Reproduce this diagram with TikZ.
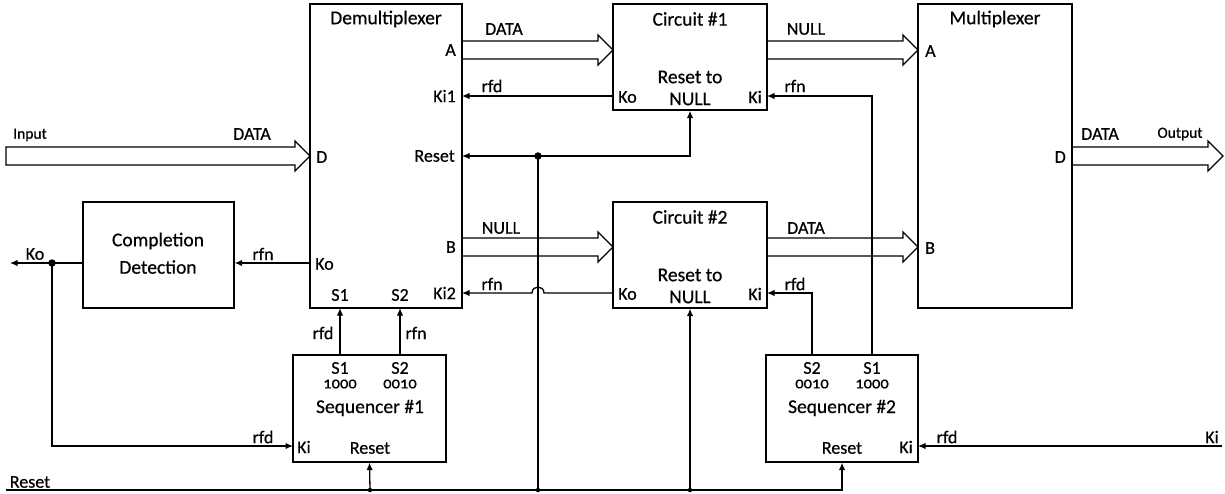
\documentclass[tikz,border=0pt]{standalone}
\usepackage{fontspec}
\setmainfont{Carlito}[FakeBold=0.5]
\usetikzlibrary{arrows.meta,calc}
\newcommand\fatarrow[2]{\draw[fat] let \p1=(#1), \p2=(#2) in (\x1,\y1+9pt) -- (\x2-15pt,\y1+9pt) -- (\x2-15pt,\y1+15pt) -- (\x2,\y1) -- (\x2-15pt,\y1-15pt) -- (\x2-15pt,\y1-9pt) -- (\x1,\y1-9pt) -- cycle;}
\begin{document}
\begin{tikzpicture}[x=1pt,y=-1pt,
  box/.style={draw, line width=1.3pt, rectangle, inner sep=0pt},
  title/.style={inner sep=0pt, font=\fontsize{19.5}{22}\selectfont},
  port/.style={inner sep=0pt, font=\fontsize{18}{20}\selectfont},
  io/.style={inner sep=0pt, font=\fontsize{15.5}{18}\selectfont},
  num/.style={inner sep=0pt, font=\fontsize{16.5}{18}\selectfont\addfontfeatures{Numbers=OldStyle}},
  wire/.style={line width=1.3pt},
  sig/.style={line width=1.3pt, -{Latex[length=7.5pt,width=6.5pt]}},
  fat/.style={line width=1.3pt, line join=miter},
  dot/.style={circle, fill, inner sep=0pt, minimum size=7.5pt},
  sdot/.style={circle, fill, inner sep=0pt, minimum size=4.5pt}]
\useasboundingbox (0,0) rectangle (1225,493);

% boxes
\node[box, minimum width=152pt, minimum height=304pt] (demux) at (386,156) {};
\node[box, minimum width=154pt, minimum height=106pt] (c1) at (690,57) {};
\node[box, minimum width=154pt, minimum height=106pt] (c2) at (690,255) {};
\node[box, minimum width=154pt, minimum height=304pt] (mux) at (995,156) {};
\node[box, minimum width=151pt, minimum height=106pt] (cd) at (158.5,255) {};
\node[box, minimum width=153pt, minimum height=107pt] (seq1) at (369.5,408.5) {};
\node[box, minimum width=152pt, minimum height=107pt] (seq2) at (842,408.5) {};

% titles
\node[title] (demuxT) at (386,19) {Demultiplexer};
\node[title] (c1T) at (690,19) {Circuit \#1};
\node[title] (c1R) at (690,77) {Reset to};
\node[title] (c1N) at (690,99) {NULL};
\node[title] (c2T) at (690,217) {Circuit \#2};
\node[title] (c2R) at (690,275) {Reset to};
\node[title] (c2N) at (690,297) {NULL};
\node[title] (muxT) at (995,19) {Multiplexer};
\node[title] (cdT1) at (158,241) {Completion};
\node[title] (cdT2) at (158,267) {Detection};
\node[title] (seq1T) at (370,408) {Sequencer \#1};
\node[title] (seq2T) at (842,408) {Sequencer \#2};

% demux ports
\node[port, anchor=east] (lA) at (456,50) {A};
\node[port, anchor=east] (lKi1) at (456,96) {Ki1};
\node[port, anchor=east] (lRes) at (455,156) {Reset};
\node[port, anchor=east] (lB) at (456,247) {B};
\node[port, anchor=east] (lKi2) at (456,293) {Ki2};
\node[port, anchor=west] (lD) at (316,157) {D};
\node[port, anchor=west] (lKo) at (315,264) {Ko};
\node[port] (lS1) at (340,295) {S1};
\node[port] (lS2) at (400,295) {S2};
% circuit ports
\node[port, anchor=west] (c1Kol) at (618,97) {Ko};
\node[port, anchor=east] (c1Kil) at (762,97) {Ki};
\node[port, anchor=west] (c2Kol) at (618,294) {Ko};
\node[port, anchor=east] (c2Kil) at (762,294) {Ki};
% mux ports
\node[port, anchor=west] (mA) at (925,51) {A};
\node[port, anchor=west] (mB) at (925,248) {B};
\node[port, anchor=east] (mD) at (1066,157) {D};
% sequencer ports
\node[port] (q1S1) at (340,368) {S1};
\node[num] (q1n1) at (340,384) {1000};
\node[port] (q1S2) at (400,368) {S2};
\node[num] (q1n2) at (400,384) {0010};
\node[port, anchor=west] (q1Ki) at (297,447) {Ki};
\node[port] (q1R) at (370,448) {Reset};
\node[port] (q2S2) at (812,368) {S2};
\node[num] (q2n2) at (812,384) {0010};
\node[port] (q2S1) at (872,368) {S1};
\node[num] (q2n1) at (872,384) {1000};
\node[port, anchor=east] (q2Ki) at (913,447) {Ki};
\node[port] (q2R) at (842,448) {Reset};

% port coordinates
\coordinate (inStart) at (6,156);
\coordinate (dD) at (310,156);
\coordinate (dA) at (462,50);
\coordinate (dB) at (462,247);
\coordinate (dKi1) at (462,96);
\coordinate (dKi2) at (462,293);
\coordinate (dRes) at (462,156);
\coordinate (dKo) at (310,263);
\coordinate (dS1) at (340,308);
\coordinate (dS2) at (400,308);
\coordinate (c1In) at (613,50);
\coordinate (c1Out) at (767,50);
\coordinate (c1Ko) at (613,96);
\coordinate (c1Ki) at (767,96);
\coordinate (c2In) at (613,247);
\coordinate (c2Out) at (767,247);
\coordinate (c2Ko) at (613,293);
\coordinate (c2Ki) at (767,293);
\coordinate (mAin) at (918,50);
\coordinate (mBin) at (918,247);
\coordinate (mDout) at (1072,156);
\coordinate (outEnd) at (1223,156);
\coordinate (s1S1) at (340,355);
\coordinate (s1S2) at (400,355);
\coordinate (s1Ki) at (293,446);
\coordinate (s2S2) at (812,355);
\coordinate (s2S1) at (872,355);
\coordinate (s2Ki) at (918,446);
\coordinate (kiIn) at (1222,446);
\coordinate (jk) at (52,263);
\coordinate (koEnd) at (10,263);
\coordinate (rsStart) at (6,490);
\coordinate (j1) at (370,490);
\coordinate (j2) at (538,490);
\coordinate (j3) at (690,490);
\coordinate (jr) at (538,156);
\coordinate (hopR) at (544,293);
\coordinate (hopL) at (532,293);

% fat data arrows
\fatarrow{inStart}{dD}
\fatarrow{dA}{c1In}
\fatarrow{c1Out}{mAin}
\fatarrow{dB}{c2In}
\fatarrow{c2Out}{mBin}
\fatarrow{mDout}{outEnd}

% signal arrows
\draw[sig] (c1Ko) -- (dKi1);
\draw[sig] (c2Ko) -- (hopR) .. controls ($(hopR)+(0,-8)$) and ($(hopL)+(0,-8)$) .. (hopL) -- (dKi2);
\draw[sig] (s2S1) |- (c1Ki);
\draw[sig] (s2S2) |- (c2Ki);
\draw[sig] (kiIn) -- (s2Ki);
\draw[sig] (dKo) -- (cd.east |- dKo);
\draw[wire] (cd.west |- jk) -- (jk);
\draw[sig] (jk) -- (koEnd);
\draw[sig] (jk) |- (s1Ki);
\draw[sig] (s1S1) -- (dS1);
\draw[sig] (s1S2) -- (dS2);

% reset net
\draw[sig] (rsStart) -| (seq2.south);
\draw[sig] (j1) -- (seq1.south);
\draw[wire] (j2) -- (jr);
\draw[sig] (jr) -- (dRes);
\draw[sig] (jr) -| (c1.south);
\draw[sig] (j3) -- (c2.south);
\node[dot] (djr) at (jr) {};
\node[dot] (djk) at (jk) {};
\node[sdot] (dj1) at (j1) {};
\node[sdot] (dj2) at (j2) {};
\node[sdot] (dj3) at (j3) {};

% connector labels
\node[io] (tIn) at (30,135) {Input};
\node[port] (tInD) at (252,134) {DATA};
\node[port] (tA) at (504,29) {DATA};
\node[port] (tKi1) at (492,86) {rfd};
\node[port] (tB) at (501,228) {NULL};
\node[port] (tKi2) at (492,284) {rfn};
\node[port] (tc1o) at (806,29) {NULL};
\node[port] (tc1k) at (795,86) {rfn};
\node[port] (tc2o) at (806,228) {DATA};
\node[port] (tc2k) at (795,284) {rfd};
\node[port] (tOutD) at (1100,134) {DATA};
\node[io] (tOut) at (1180,134) {Output};
\node[port] (tcd) at (263,254) {rfn};
\node[port] (tKo) at (35,254) {Ko};
\node[port] (tsrfd) at (263,437) {rfd};
\node[port] (tS1) at (323,333) {rfd};
\node[port] (tS2) at (416,333) {rfn};
\node[port] (tq2) at (947,437) {rfd};
\node[port] (tKiR) at (1212,437) {Ki};
\node[port] (tRes) at (30,482) {Reset};
\end{tikzpicture}
\end{document}
